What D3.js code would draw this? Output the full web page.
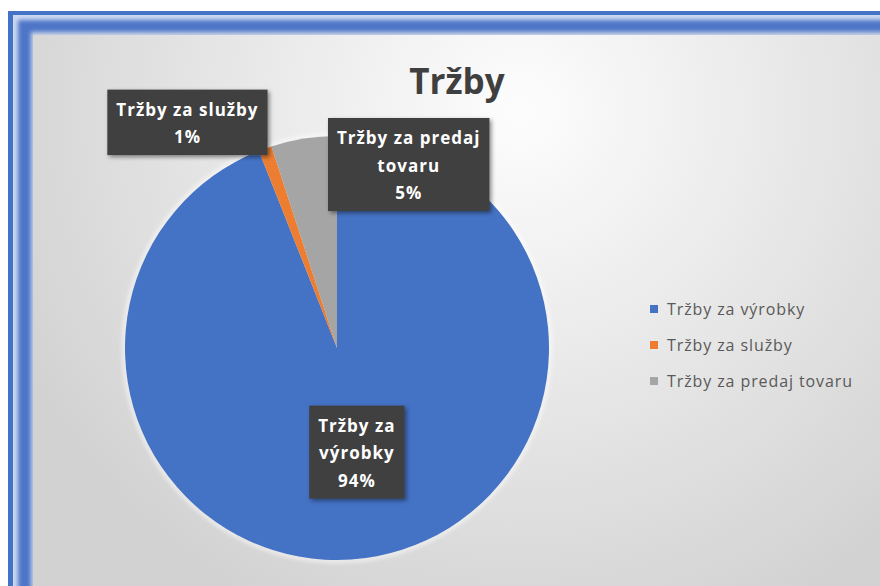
<!DOCTYPE html>
<html><head><meta charset="utf-8">
<script src="https://cdn.jsdelivr.net/npm/d3@7"></script>
<style>body{margin:0;background:#fff;overflow:hidden}</style>
</head><body>
<svg id="c" width="880" height="586"></svg>
<script>
// ---- data ----
const categories = ["Tržby za výrobky", "Tržby za služby", "Tržby za predaj tovaru"];
const values = [94, 1, 5];
const colors = ["#4472C4", "#ED7D31", "#A5A5A5"];
const chartTitle = "Tržby";

// ---- layout ----
const W = 880, H = 586;
const cx = 337, cy = 348, R = 212;
const svg = d3.select("#c");
const defs = svg.append("defs");

// background gradient
const rg = defs.append("radialGradient").attr("id", "bg")
  .attr("gradientUnits", "userSpaceOnUse")
  .attr("cx", 520).attr("cy", 110).attr("r", 560);
rg.append("stop").attr("offset", "0").attr("stop-color", "#fdfdfd");
rg.append("stop").attr("offset", "0.35").attr("stop-color", "#eeeeee");
rg.append("stop").attr("offset", "1").attr("stop-color", "#d2d2d2");

const blur = defs.append("filter").attr("id", "blur").attr("x", "-10%").attr("y", "-10%").attr("width", "120%").attr("height", "120%");
blur.append("feGaussianBlur").attr("stdDeviation", 2.2);

const sh = defs.append("filter").attr("id", "shadow").attr("x", "-20%").attr("y", "-20%").attr("width", "150%").attr("height", "150%");
sh.append("feDropShadow").attr("dx", 2).attr("dy", 2).attr("stdDeviation", 2).attr("flood-color", "#000").attr("flood-opacity", 0.45);

const glow = defs.append("filter").attr("id", "glow").attr("x", "-10%").attr("y", "-10%").attr("width", "120%").attr("height", "120%");
glow.append("feGaussianBlur").attr("stdDeviation", 2);

// frame
svg.append("rect").attr("x", 8).attr("y", 11).attr("width", W - 8).attr("height", H - 11).attr("fill", "#4472C4");
svg.append("rect").attr("x", 13).attr("y", 15).attr("width", W - 13).attr("height", H - 15).attr("fill", "#cdd9f1");
svg.append("rect").attr("x", 18).attr("y", 20).attr("width", W).attr("height", H).attr("fill", "#4d76c7").attr("filter", "url(#blur)");
svg.append("rect").attr("x", 31).attr("y", 32).attr("width", W).attr("height", H).attr("fill", "#c9d3e8").attr("filter", "url(#blur)");
svg.append("rect").attr("x", 33).attr("y", 35).attr("width", W - 33).attr("height", H - 35).attr("fill", "url(#bg)");

// title
svg.append("text").attr("x", 457).attr("y", 94).attr("text-anchor", "middle")
  .attr("font-family", "Open Sans").attr("font-weight", "bold").attr("font-size", 35)
  .attr("fill", "#3f3f3f").text(chartTitle);

// pie
const pie = d3.pie().sort(null).value(d => d)(values);
const arc = d3.arc().innerRadius(0).outerRadius(R);
const g = svg.append("g").attr("transform", `translate(${cx},${cy})`);
g.append("circle").attr("r", R + 1).attr("fill", "none").attr("stroke", "#ffffff").attr("stroke-opacity", 0.8).attr("stroke-width", 3).attr("filter", "url(#glow)");
g.selectAll("path.slice").data(pie).join("path").attr("class", "slice")
  .attr("d", arc).attr("fill", (d, i) => colors[i]);

// data labels
const total = d3.sum(values);
const fs = 17, lh = 27.5, pad = 9;
const labelWrap = [85, 152, 152];
function measure(t) {
  const tmp = svg.append("text").attr("font-family", "Open Sans").attr("font-weight", "bold")
    .attr("font-size", fs).attr("letter-spacing", 1).text(t);
  const w = tmp.node().getComputedTextLength();
  tmp.remove();
  return w;
}
function wrap(text, maxW) {
  const words = text.split(" ");
  const lines = [];
  let cur = "";
  words.forEach(w => {
    const test = cur ? cur + " " + w : w;
    if (cur && measure(test) > maxW) { lines.push(cur); cur = w; } else cur = test;
  });
  if (cur) lines.push(cur);
  return lines;
}
pie.forEach((d, i) => {
  const lines = wrap(categories[i], labelWrap[i]);
  lines.push(Math.round(values[i] / total * 100) + "%");
  const bw = d3.max(lines, measure) + 2 * pad;
  const bh = (lines.length - 1) * lh + 38;
  const mid = (d.startAngle + d.endAngle) / 2;
  let left, top;
  if (i === 0) {
    const c = arc.centroid(d);
    left = cx + c[0] - bw / 2; top = cy + c[1] - bh / 2;
  } else if (i === 1) {
    const px = cx + Math.sin(mid) * (R - 7), py = cy - Math.cos(mid) * (R - 7);
    left = px - bw; top = py - bh;
  } else {
    const px = cx + Math.sin(d.endAngle) * (R - 75), py = cy - Math.cos(d.endAngle) * (R - 75);
    left = px - 9; top = py - bh;
  }
  const lg = svg.append("g");
  lg.append("rect").attr("x", left).attr("y", top).attr("width", bw).attr("height", bh)
    .attr("fill", "#404040").attr("filter", "url(#shadow)");
  lines.forEach((t, k) => {
    lg.append("text").attr("x", left + bw / 2).attr("y", top + 20 + k * lh + 6)
      .attr("text-anchor", "middle").attr("font-family", "Open Sans").attr("font-weight", "bold")
      .attr("font-size", fs).attr("letter-spacing", 1).attr("fill", "#ffffff").text(t);
  });
});

// legend
const leg = svg.append("g");
categories.forEach((c, i) => {
  const y = 309 + i * 36;
  leg.append("rect").attr("x", 650).attr("y", y - 4).attr("width", 8).attr("height", 8).attr("fill", colors[i]);
  leg.append("text").attr("x", 667).attr("y", y + 5.5).attr("font-family", "Open Sans")
    .attr("font-size", 16).attr("letter-spacing", 0.9).attr("fill", "#595959").text(c);
});
</script>
</body></html>
